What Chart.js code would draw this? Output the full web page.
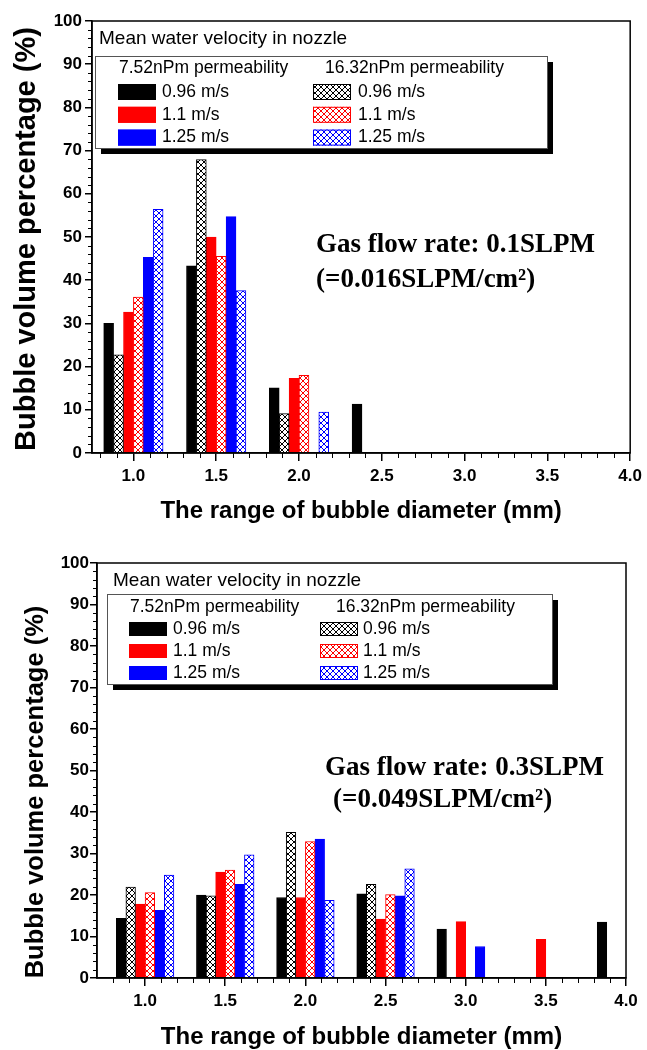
<!DOCTYPE html>
<html lang="en">
<head>
<meta charset="UTF-8">
<title>Bubble volume percentage</title>
<script src="https://cdn.jsdelivr.net/npm/chart.js@4"></script>
<style>
  body { margin: 0; background: #fff; overflow: hidden; }
  .panel { position: absolute; left: 0; width: 647px; height: 530px; }
  #top { top: 0; }
  #bottom { top: 530px; }
</style>
</head>
<body>
<div class="panel" id="top"><canvas id="chartTop" width="647" height="530"></canvas></div>
<div class="panel" id="bottom"><canvas id="chartBottom" width="647" height="530"></canvas></div>
<script>
// bin centres (mm) and axis ticks
const diameters = [1.0, 1.5, 2.0, 2.5, 3.0, 3.5, 4.0];
const xTicks = [1.0, 1.5, 2.0, 2.5, 3.0, 3.5, 4.0];
const speedLabels = ['0.96 m/s', '1.1 m/s', '1.25 m/s'];
const groupLabels = ['7.52nPm permeability', '16.32nPm permeability'];

// gas flow 0.1 SLPM
const top752_096  = [30.0, 43.3, 15.1, 11.3, null, null, null];
const top1632_096 = [22.7, 67.9,  9.1, null, null, null, null];
const top752_110  = [32.6, 50.0, 17.3, null, null, null, null];
const top1632_110 = [36.1, 45.5, 18.0, null, null, null, null];
const top752_125  = [45.3, 54.7, null, null, null, null, null];
const top1632_125 = [56.4, 37.6,  9.5, null, null, null, null];

// gas flow 0.3 SLPM
const bot752_096  = [14.4, 20.0, 19.4, 20.3, 11.8, null, 13.5];
const bot1632_096 = [21.9, 19.8, 35.1, 22.6, null, null, null];
const bot752_110  = [17.8, 25.5, 19.4, 14.2, 13.6,  9.3, null];
const bot1632_110 = [20.6, 26.0, 32.9, 20.1, null, null, null];
const bot752_125  = [16.3, 22.6, 33.5, 19.8,  7.6, null, null];
const bot1632_125 = [24.8, 29.7, 18.7, 26.3, null, null, null];

const colors = ['#000000', '#ff0000', '#0000ff'];
const SANS = "'Liberation Sans', Arial, sans-serif";
const SERIF = "'Liberation Serif', 'Times New Roman', serif";

function hatch(color) {
    const c = document.createElement('canvas');
    c.width = 6; c.height = 6;
    const g = c.getContext('2d');
    g.fillStyle = '#fff';
    g.fillRect(0, 0, 6, 6);
    g.strokeStyle = color;
    g.lineWidth = 1;
    g.beginPath();
    g.moveTo(0, 0); g.lineTo(6, 6);
    g.moveTo(6, 0); g.lineTo(0, 6);
    g.stroke();
    return g.createPattern(c, 'repeat');
}

function buildDatasets(solid, hatched) {
    const out = [];
    for (let i = 0; i < 3; i++) {
        out.push({ label: groupLabels[0] + ' ' + speedLabels[i], data: solid[i],
            backgroundColor: colors[i], borderColor: colors[i], borderWidth: 1 });
        out.push({ label: groupLabels[1] + ' ' + speedLabels[i], data: hatched[i],
            backgroundColor: hatch(colors[i]), borderColor: colors[i], borderWidth: 1 });
    }
    return out;
}

// frame, minor ticks, y title, legend box and flow-rate note
const decor = {
    id: 'decor',
    afterDraw(chart, args, o) {
        const ctx = chart.ctx, a = chart.chartArea;
        const xs = chart.scales.x, ys = chart.scales.y;
        ctx.save();
        ctx.strokeStyle = '#000';
        ctx.lineWidth = 1.5;
        ctx.strokeRect(a.left, a.top, a.right - a.left, a.bottom - a.top);

        ctx.lineWidth = 1;
        ctx.beginPath();
        for (let t = Math.ceil(xs.min * 10 + 0.001); t < xs.max * 10; t++) {
            if (t % 5 === 0) continue;
            const px = Math.round(xs.getPixelForValue(t / 10)) + 0.5;
            ctx.moveTo(px, a.bottom);
            ctx.lineTo(px, a.bottom + 5);
        }
        for (let v = 2; v < 100; v += 2) {
            if (v % 10 === 0) continue;
            const py = Math.round(ys.getPixelForValue(v)) + 0.5;
            ctx.moveTo(a.left, py);
            ctx.lineTo(a.left - 4, py);
        }
        ctx.stroke();

        // y axis title
        ctx.fillStyle = '#000';
        ctx.font = 'bold ' + o.yTitleSize + 'px ' + SANS;
        ctx.textAlign = 'center';
        ctx.textBaseline = 'middle';
        ctx.translate(o.yTitleX, o.yTitleY);
        ctx.rotate(-Math.PI / 2);
        ctx.fillText('Bubble volume percentage (%)', 0, 0);
        ctx.setTransform(1, 0, 0, 1, 0, 0);

        // legend
        const L = o.legend;
        ctx.textAlign = 'left';
        ctx.font = '19px ' + SANS;
        ctx.fillText('Mean water velocity in nozzle', L.titleX, L.titleY);
        ctx.fillStyle = '#000';
        ctx.fillRect(L.box[0] + 6, L.box[1] + 6, L.box[2], L.box[3]);
        ctx.fillStyle = '#fff';
        ctx.fillRect(L.box[0], L.box[1], L.box[2], L.box[3]);
        ctx.strokeStyle = '#555';
        ctx.lineWidth = 1;
        ctx.strokeRect(L.box[0] + 0.5, L.box[1] + 0.5, L.box[2], L.box[3]);
        ctx.fillStyle = '#000';
        ctx.font = '17.5px ' + SANS;
        ctx.fillText(groupLabels[0], L.headX[0], L.headY);
        ctx.fillText(groupLabels[1], L.headX[1], L.headY);
        const ds = chart.data.datasets;
        for (let i = 0; i < 3; i++) {
            const ry = L.rowY + i * L.rowStep;
            for (let k = 0; k < 2; k++) {
                const d = ds[i * 2 + k];
                ctx.fillStyle = d.backgroundColor;
                ctx.fillRect(L.swX[k], ry - L.swH / 2, 38, L.swH);
                ctx.strokeStyle = d.borderColor;
                ctx.strokeRect(L.swX[k] + 0.5, ry - L.swH / 2 + 0.5, 37, L.swH - 1);
                ctx.fillStyle = '#000';
                ctx.fillText(speedLabels[i], L.txX[k], ry);
            }
        }

        // flow rate note
        ctx.font = 'bold 27px ' + SERIF;
        ctx.textBaseline = 'alphabetic';
        ctx.fillText(o.note[0], o.noteX[0], o.noteY[0]);
        ctx.fillText(o.note[1], o.noteX[1], o.noteY[1]);
        ctx.restore();
    }
};

function makeChart(id, datasets, p) {
    const tickFont = { family: SANS, size: 17, weight: 'bold' };
    return new Chart(document.getElementById(id), {
        type: 'bar',
        data: { labels: diameters, datasets: datasets },
        plugins: [decor],
        options: {
            responsive: false,
            animation: false,
            devicePixelRatio: 1,
            layout: { padding: { top: p.padTop, right: p.padRight, left: 0, bottom: 0 } },
            datasets: { bar: { barThickness: p.barW } },
            plugins: {
                legend: { display: false },
                tooltip: { enabled: false },
                decor: p.decor
            },
            scales: {
                x: {
                    type: 'linear', min: p.xMin, max: 4.0, offset: false,
                    afterBuildTicks: s => { s.ticks = xTicks.map(v => ({ value: v })); },
                    afterFit: s => { s.height = p.xH; },
                    grid: { offset: false, drawOnChartArea: false, tickLength: 8, color: '#000', lineWidth: 1.5 },
                    border: { color: '#000', width: 1.5 },
                    ticks: { font: tickFont, color: '#000', padding: 5, maxRotation: 0, autoSkip: false,
                             callback: v => Number(v).toFixed(1) },
                    title: { display: true, text: 'The range of bubble diameter (mm)', color: '#000',
                             font: { family: SANS, size: 24, weight: 'bold' }, padding: { top: 0, bottom: p.xTitlePad } }
                },
                y: {
                    min: 0, max: 100,
                    afterFit: s => { s.width = p.yW; },
                    grid: { drawOnChartArea: false, tickLength: 7, color: '#000', lineWidth: 1.5 },
                    border: { color: '#000', width: 1.5 },
                    ticks: { stepSize: 10, font: tickFont, color: '#000', padding: p.yPad }
                }
            }
        }
    });
}

makeChart('chartTop',
    buildDatasets([top752_096, top752_110, top752_125], [top1632_096, top1632_110, top1632_125]),
    {
        padTop: 21, padRight: 14, xMin: 0.75, xH: 77, yW: 92, yPad: 3, barW: 9.9, xTitlePad: 4,
        decor: {
            yTitleSize: 29, yTitleX: 27, yTitleY: 239,
            legend: { titleX: 99, titleY: 39, box: [95, 56, 452, 92], headX: [119, 325], headY: 68,
                      rowY: 92, rowStep: 22.8, swX: [118, 313], swH: 16, txX: [162, 358] },
            note: ['Gas flow rate: 0.1SLPM', '(=0.016SLPM/cm\u00b2)'],
            noteX: [316, 316], noteY: [252, 287]
        }
    });

makeChart('chartBottom',
    buildDatasets([bot752_096, bot752_110, bot752_125], [bot1632_096, bot1632_110, bot1632_125]),
    {
        padTop: 33, padRight: 21, xMin: 0.7, xH: 82, yW: 97, yPad: 1, barW: 9.6, xTitlePad: 8,
        decor: {
            yTitleSize: 25.5, yTitleX: 36, yTitleY: 262,
            legend: { titleX: 113, titleY: 51, box: [107, 64, 445, 90], headX: [130, 336], headY: 77,
                      rowY: 99, rowStep: 22, swX: [129, 320], swH: 14, txX: [173, 363] },
            note: ['Gas flow rate: 0.3SLPM', '(=0.049SLPM/cm\u00b2)'],
            noteX: [325, 333], noteY: [245, 277]
        }
    });
</script>
</body>
</html>
